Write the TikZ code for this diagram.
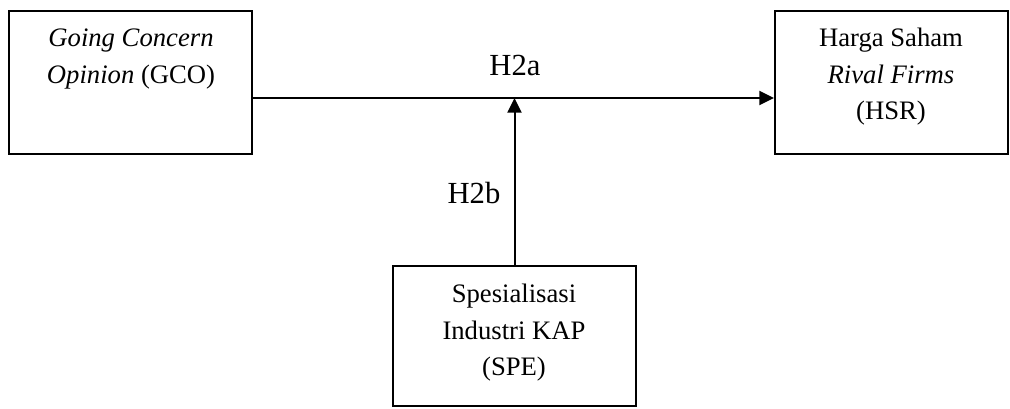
\documentclass[tikz,border=0pt]{standalone}
\usepackage{fontspec}
\setmainfont{Liberation Serif}
\usetikzlibrary{positioning,arrows.meta}

\begin{document}
\begin{tikzpicture}[
        x=0.75pt, y=-0.75pt,
        box/.style={
            rectangle, draw, line width=1.5pt, inner sep=0pt
        },
        txt/.style={
            anchor=north, align=center, inner sep=0pt,
            font=\fontsize{20}{27.4}\selectfont
        },
        hyp/.style={anchor=base, inner sep=0pt, font=\fontsize{23}{27}\selectfont},
        arrow/.style={-{Triangle[length=11pt,width=10.5pt]}, line width=1.5pt}
    ]
        \useasboundingbox (0,0) rectangle (1010,408);

        % boxes
        \node[box, minimum width=243*0.75pt, minimum height=143*0.75pt] (GCO) at (130.5,82.5) {};
        \node[box, minimum width=233*0.75pt, minimum height=143*0.75pt] (HSR) at (891.5,82.5) {};
        \node[box, minimum width=243*0.75pt, minimum height=140*0.75pt] (SPE) at (514.5,336) {};

        % box texts
        \node[txt] (GCOtxt) at (131,29) {\textit{Going Concern}\\\textit{Opinion} (GCO)};
        \node[txt] (HSRtxt) at (891,28) {Harga Saham\\\textit{Rival Firms}\\(HSR)};
        \node[txt] (SPEtxt) at (514,284) {Spesialisasi\\Industri KAP\\(SPE)};

        % links
        \coordinate (lvl) at (0,98);
        \draw[arrow] (GCO.east |- lvl) -- (HSR.west |- lvl);
        \draw[arrow] (SPE.north) -- (SPE.north |- lvl);

        \node[hyp] (H2a) at (515,75) {H2a};
        \node[hyp] (H2b) at (474,203) {H2b};
    \end{tikzpicture}
\end{document}
